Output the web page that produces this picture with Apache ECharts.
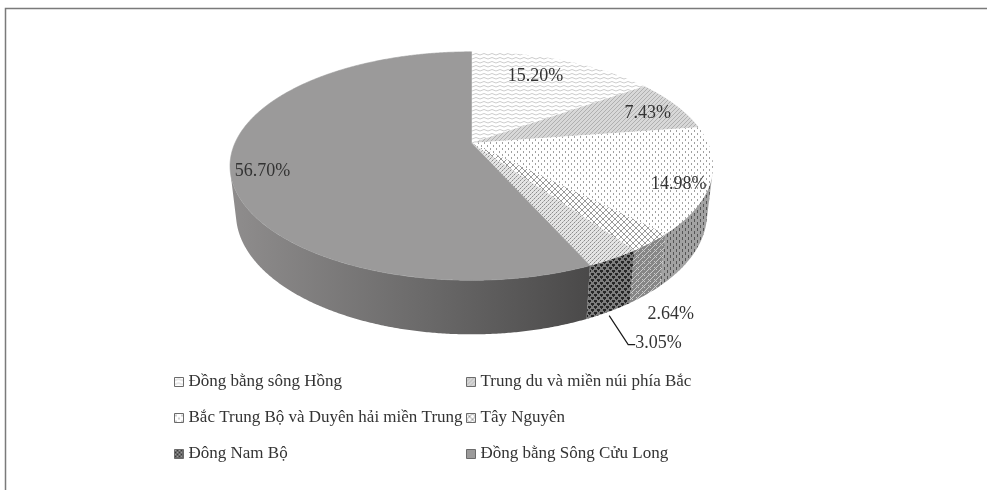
<!DOCTYPE html>
<html>
<head>
<meta charset="utf-8">
<script src="https://cdn.jsdelivr.net/npm/echarts@6/dist/echarts.min.js"></script>
<style>
  html, body { margin: 0; padding: 0; background: #ffffff; }
  #chart { width: 987px; height: 490px; }
</style>
</head>
<body>
<div id="chart"></div>
<script>
// Region names and their shares (%), clockwise from 12 o'clock
const regions = [
  'Đồng bằng sông Hồng',
  'Trung du và miền núi phía Bắc',
  'Bắc Trung Bộ và Duyên hải miền Trung',
  'Tây Nguyên',
  'Đông Nam Bộ',
  'Đồng bằng Sông Cửu Long'
];
const shares = [15.20, 7.43, 14.98, 2.64, 3.05, 56.70];

// How each value label is placed
const labelPlacement = ['inside', 'inside', 'inside', 'outside', 'leader', 'inside'];

// ---- patterned fills -------------------------------------------------------
function tile(w, h, bg, draw) {
  const c = document.createElement('canvas');
  c.width = w; c.height = h;
  const g = c.getContext('2d');
  g.fillStyle = bg; g.fillRect(0, 0, w, h);
  draw(g);
  return { type: 'pattern', image: c, repeat: 'repeat' };
}
function px(g, color, list) {
  g.fillStyle = color;
  list.forEach(p => g.fillRect(p[0], p[1], p[2] || 1, p[3] || 1));
}

const waveTop = tile(8, 4, '#ffffff', g => {
  g.strokeStyle = '#cccccc'; g.lineWidth = 1;
  g.beginPath(); g.moveTo(0, 3); g.lineTo(4, 1.5); g.lineTo(8, 3); g.stroke();
});
const hatchTop = tile(4, 4, '#d8d8d8', g => {
  px(g, '#b0b0b0', [[0, 3], [1, 2], [2, 1], [3, 0]]);
});
const dotTop = tile(6, 6, '#ffffff', g => {
  px(g, '#a0a0a0', [[1, 1, 1, 2], [4, 4, 1, 2]]);
});
const dotSide = tile(6, 6, '#a2a2a2', g => {
  px(g, '#555555', [[1, 0, 1, 3], [4, 3, 1, 3]]);
});
const latticeTop = tile(6, 6, '#ffffff', g => {
  g.strokeStyle = '#9a9a9a'; g.lineWidth = 1;
  g.beginPath();
  g.moveTo(0, 6); g.lineTo(6, 0);
  g.moveTo(0, 0); g.lineTo(6, 6);
  g.stroke();
});
const latticeSide = tile(6, 6, '#868686', g => {
  g.strokeStyle = '#cacaca'; g.lineWidth = 1;
  g.beginPath();
  g.moveTo(0, 6); g.lineTo(6, 0);
  g.moveTo(0, 3); g.lineTo(3, 6);
  g.stroke();
});
const fineTop = tile(4, 4, '#e4e4e4', g => {
  px(g, '#8c8c8c', [[0, 0], [2, 2]]);
  px(g, '#b4b4b4', [[1, 3], [3, 1]]);
});
const blobSide = tile(6, 6, '#7e7e7e', g => {
  px(g, '#262626', [[0, 0, 3, 2], [3, 3, 3, 2], [1, 2, 1, 1], [4, 5, 1, 1]]);
});
const blobLegend = tile(4, 4, '#3a3a3a', g => {
  px(g, '#9a9a9a', [[0, 0, 2, 2], [2, 2, 2, 2]]);
});
const sideGradient = {
  type: 'linear', x: 0, y: 0, x2: 1, y2: 0,
  colorStops: [
    { offset: 0, color: '#8f8d8d' },
    { offset: 0.55, color: '#6a6969' },
    { offset: 1, color: '#4a4949' }
  ]
};

const topFill = [waveTop, hatchTop, dotTop, latticeTop, fineTop, '#9b9a9a'];
const sideFill = ['#c9c9c9', '#9a9a9a', dotSide, latticeSide, blobSide, sideGradient];
const legendFill = [waveTop, hatchTop, dotTop, latticeTop, blobLegend, '#9b9a9a'];

// ---- 3D pie geometry -------------------------------------------------------
const TILT = 27.6 * Math.PI / 180;
const SN = Math.sin(TILT), CS = Math.cos(TILT);
const DIST = 4.39;      // eye distance, in radii
const DEPTH = 0.228;    // cylinder thickness, in radii

const total = shares.reduce((a, b) => a + b, 0);
const startAngles = [];
const sweeps = [];
shares.reduce((acc, v) => {
  startAngles.push(acc / total * Math.PI * 2);
  sweeps.push(v / total * Math.PI * 2);
  return acc + v;
}, 0);

// theta: clockwise from the far point; height: 0 = top face, -DEPTH = bottom
function project(theta, height, frac, geo) {
  const X = frac * Math.sin(theta);
  const Z = frac * Math.cos(theta);
  const yp = height * CS + Z * SN;
  const zp = -height * SN + Z * CS;
  const s = DIST / (DIST + zp);
  return [geo.cx + geo.k * X * s, geo.cy - geo.k * yp * s];
}
function arc(from, to) {
  const n = Math.max(2, Math.ceil(Math.abs(to - from) / (0.4 * Math.PI / 180)));
  const out = [];
  for (let j = 0; j <= n; j++) out.push(from + (to - from) * j / n);
  return out;
}

const labelFont = '18px "Liberation Serif", "DejaVu Serif", serif';
const labelColor = '#333333';

function sliceRenderer(i) {
  return function (params, api) {
    const W = api.getWidth(), H = api.getHeight();
    const geo = { cx: W * 0.4777, cy: H * 0.2918, k: W * 0.2396 };
    const value = api.value(0);
    const a0 = startAngles[i];
    const a1 = a0 + sweeps[i];
    const children = [];

    // front wall
    const visLo = Math.acos(-1 / (DIST * CS));
    const visHi = Math.PI * 2 - visLo;
    const s0 = Math.max(a0, visLo), s1 = Math.min(a1, visHi);
    if (s1 > s0) {
      const pts = [];
      arc(s0, s1).forEach(t => pts.push(project(t, 0, 1, geo)));
      arc(s1, s0).forEach(t => pts.push(project(t, -DEPTH, 1, geo)));
      children.push({
        type: 'polygon', shape: { points: pts },
        style: { fill: sideFill[i] }
      });
    }

    // top face
    const top = [project(0, 0, 0, geo)];
    arc(a0, a1).forEach(t => top.push(project(t, 0, 1, geo)));
    const solid = typeof topFill[i] === 'string';
    children.push({
      type: 'polygon', shape: { points: top },
      style: solid ? { fill: topFill[i], stroke: topFill[i], lineWidth: 0.6 } : { fill: topFill[i] }
    });

    // value label
    const text = value.toFixed(2) + '%';
    const mid = (a0 + a1) / 2;
    const mode = labelPlacement[i];
    if (mode === 'inside') {
      // tucked inside the rim along the slice's bisector
      const centre = project(0, 0, 0, geo);
      const edge = project(mid, 0, 1, geo);
      const dx = edge[0] - centre[0], dy = edge[1] - centre[1];
      const len = Math.hypot(dx, dy) || 1;
      const ux = dx / len, uy = dy / len;
      const halfW = text.length * 4.6 + 5;
      const x = edge[0] - Math.sign(ux) * Math.sqrt(Math.abs(ux)) * halfW;
      const y = edge[1] - uy * 14 + 6;
      children.push({
        type: 'text', x, y, z2: 10,
        style: { text, font: labelFont, fill: labelColor, align: 'center', verticalAlign: 'middle' }
      });
    } else {
      const rim = project(mid, -DEPTH, 1, geo);
      if (mode === 'outside') {
        children.push({
          type: 'text', x: rim[0] + 25, y: rim[1] + 20, z2: 10,
          style: { text, font: labelFont, fill: labelColor, align: 'center', verticalAlign: 'middle' }
        });
      } else {
        const bend = [rim[0] + 19, rim[1] + 33];
        const end = [bend[0] + 7, bend[1]];
        children.push({
          type: 'polyline', z2: 10,
          shape: { points: [[rim[0], rim[1] + 4], bend, end] },
          style: { stroke: '#1a1a1a', lineWidth: 1.2, fill: null }
        });
        children.push({
          type: 'text', x: end[0], y: end[1] - 1, z2: 10,
          style: { text, font: labelFont, fill: labelColor, align: 'left', verticalAlign: 'middle' }
        });
      }
    }
    return { type: 'group', children };
  };
}

const series = regions.map((name, i) => ({
  type: 'custom',
  name,
  coordinateSystem: 'none',
  data: [[shares[i]]],
  itemStyle: { color: legendFill[i] },
  renderItem: sliceRenderer(i),
  silent: true
}));

const legendText = {
  fontFamily: '"Liberation Serif", "DejaVu Serif", serif',
  fontSize: 17,
  lineHeight: 18,
  color: '#333333'
};
function legendBlock(idx, left) {
  return {
    orient: 'vertical',
    left,
    top: 368,
    itemWidth: 9,
    itemHeight: 9,
    itemGap: 18,
    icon: 'rect',
    selectedMode: false,
    itemStyle: { borderColor: '#6b6b6b', borderWidth: 1 },
    textStyle: legendText,
    data: idx.map(j => ({ name: regions[j], icon: 'rect', itemStyle: { color: legendFill[j] } }))
  };
}

const chart = echarts.init(document.getElementById('chart'), null, { renderer: 'canvas' });
chart.setOption({
  backgroundColor: '#ffffff',
  animation: false,
  legend: [legendBlock([0, 2, 4], 169), legendBlock([1, 3, 5], 461)],
  graphic: [{
    type: 'polyline',
    shape: { points: [[5.5, 490], [5.5, 8.5], [987, 8.5]] },
    style: { stroke: '#7a7a7a', lineWidth: 1.5, fill: null },
    silent: true
  }],
  series
});
</script>
</body>
</html>
